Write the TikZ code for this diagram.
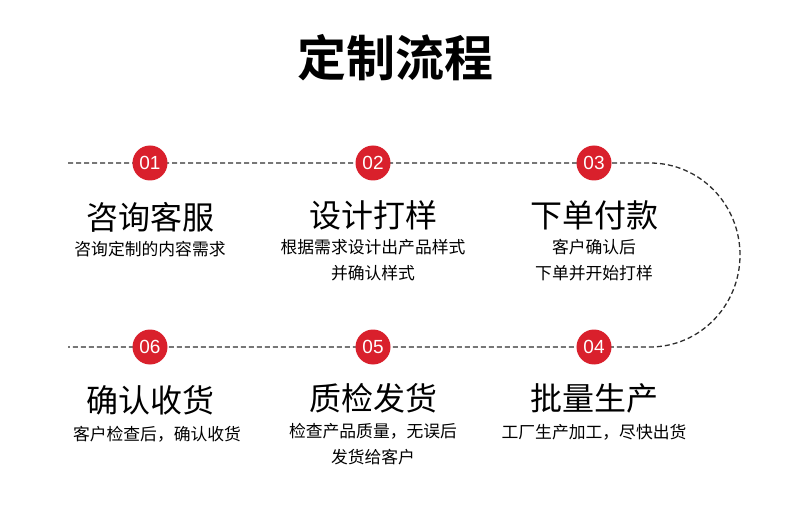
\documentclass[tikz,border=0pt]{standalone}
\usepackage{fontspec}
\setmainfont{Noto Sans CJK SC}[BoldFont={Noto Sans CJK SC Bold}]
\setsansfont{Liberation Sans}
\definecolor{stepred}{HTML}{D9202C}
\definecolor{dashgray}{HTML}{2E2E2E}
\begin{document}
\begin{tikzpicture}[x=1pt,y=1pt,
  numdot/.style={circle,fill=stepred,minimum size=35pt,inner sep=0pt,text=white,font=\sffamily\fontsize{19}{19}\selectfont},
  headtxt/.style={font=\fontsize{32}{32}\selectfont,text=black,inner sep=0pt},
  subtxt/.style={font=\fontsize{16.8}{26}\selectfont,text=black,inner sep=0pt,align=center},
  route/.style={dashed,dash pattern=on 5pt off 3pt,line width=1.3pt,draw=dashgray}]
\useasboundingbox (0,0) rectangle (790,504);
\node[font=\bfseries\fontsize{49}{49}\selectfont,inner sep=0pt] (title) at (395,446) {定制流程};
% route
\coordinate (ls) at (68,341);
\coordinate (rs) at (650,341);
\coordinate (re) at (650,157);
\coordinate (le) at (68,157);
\draw[route] (ls) -- (rs) arc[start angle=90,end angle=-90,x radius=90,y radius=92] -- (le);
% dots
\node[numdot] (d1) at (150,341) {01};
\node[numdot] (d2) at (373,341) {02};
\node[numdot] (d3) at (594,341) {03};
\node[numdot] (d4) at (594,157) {04};
\node[numdot] (d5) at (373,157) {05};
\node[numdot] (d6) at (150,157) {06};
% texts top
\node[headtxt] (h1) at (150,287) {咨询客服};
\node[subtxt] (s1) at (150,255) {咨询定制的内容需求};
\node[headtxt] (h2) at (373,289) {设计打样};
\node[subtxt,anchor=north] (s2) at (373,265) {根据需求设计出产品样式\\并确认样式};
\node[headtxt] (h3) at (594,289) {下单付款};
\node[subtxt,anchor=north] (s3) at (594,265) {客户确认后\\下单并开始打样};
% texts bottom
\node[headtxt] (h6) at (150,104) {确认收货};
\node[subtxt] (s6) at (157,70) {客户检查后，确认收货};
\node[headtxt] (h5) at (373,106) {质检发货};
\node[subtxt,anchor=north] (s5) at (373,81) {检查产品质量，无误后\\发货给客户};
\node[headtxt] (h4) at (594,106) {批量生产};
\node[subtxt] (s4) at (594,72) {工厂生产加工，尽快出货};
\end{tikzpicture}
\end{document}
